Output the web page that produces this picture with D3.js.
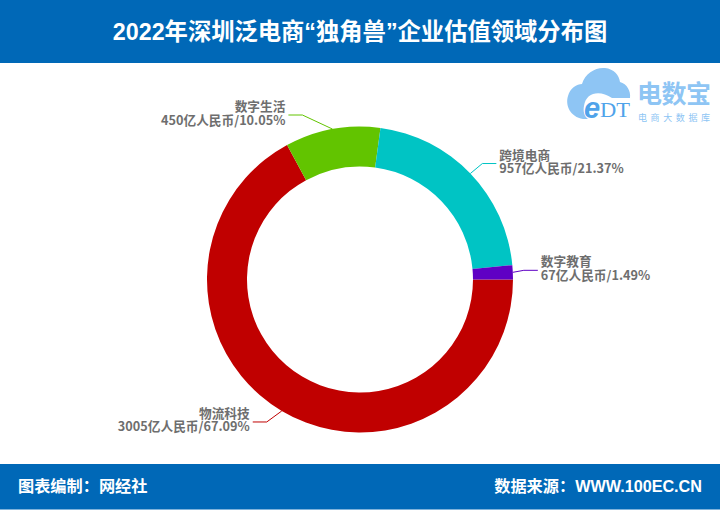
<!DOCTYPE html>
<html>
<head>
<meta charset="utf-8">
<script src="https://cdn.jsdelivr.net/npm/d3@7"></script>
<style>
html, body { margin: 0; padding: 0; background: #fff; }
svg { display: block; }
text { font-family: "Noto Sans CJK SC", "Noto Sans", sans-serif; }
.band { font-family: "Liberation Sans", "Noto Sans CJK SC", sans-serif; }
</style>
</head>
<body>
<script>
// donut chart
let w = 720;
let h = 510;

const categories = ['物流科技', '数字生活', '跨境电商', '数字教育'];
const values = [3005, 450, 957, 67];
const percents = ['67.09%', '10.05%', '21.37%', '1.49%'];
const colors = ['#c00000', '#62c400', '#00c4c4', '#5f00c4'];

const title = '2022年深圳泛电商“独角兽”企业估值领域分布图';
const footerLeft = '图表编制：网经社';
const footerRight = '数据来源：WWW.100EC.CN';

let blue = '#0068b7';
let cx = 360;
let cy = 279.5;
let outer = 153;
let inner = 113;

// how far each leader line's elbow sits from the slice edge
let elbows = [[-15, 11], [-30, -14], [12, -10], [11, -2]];

let svg = d3.select('body').append('svg')
    .attr('width', w)
    .attr('height', h);

// header and footer bands
svg.append('rect').attr('width', w).attr('height', 63).attr('fill', blue);
svg.append('rect').attr('y', 464).attr('width', w).attr('height', 45.5).attr('fill', blue);

svg.append('text')
    .attr('class', 'band')
    .text(title)
    .attr('x', 360)
    .attr('y', 40)
    .attr('text-anchor', 'middle')
    .attr('font-size', 23.3)
    .attr('font-weight', 700)
    .attr('fill', '#fff');

svg.append('text')
    .attr('class', 'band')
    .text(footerLeft)
    .attr('x', 18)
    .attr('y', 492)
    .attr('font-size', 16.2)
    .attr('font-weight', 700)
    .attr('fill', '#fff');

svg.append('text')
    .attr('class', 'band')
    .text(footerRight)
    .attr('x', 702)
    .attr('y', 492)
    .attr('text-anchor', 'end')
    .attr('font-size', 16.2)
    .attr('font-weight', 700)
    .attr('fill', '#fff');

// logo, top right
let logo = svg.append('g').attr('fill', '#8ec5f4');
logo.append('path')
    .attr('d', 'M583 119 C570 117 565 105 568 96 C570 88 577 84 582 84 C585 73 596 67 605 68 C614 69 619 75 620 82 C627 84 631 91 630 98 L612 98 C600 90 586 92 584 106 C583 111 584 116 588 119 Z');
logo.append('text').text('e').attr('x', 584).attr('y', 118).attr('font-size', 29).attr('font-weight', 700).attr('font-style', 'italic').attr('fill', '#4fa3ea').style('font-family', '"Liberation Sans"');
logo.append('text').text('DT').attr('x', 600).attr('y', 117).attr('font-size', 21).attr('textLength', 30).attr('lengthAdjust', 'spacingAndGlyphs').attr('fill', '#4fa3ea').style('font-family', '"Liberation Serif"');
logo.append('text').text('电数宝').attr('x', 637).attr('y', 103).attr('font-size', 25).attr('font-weight', 700).attr('textLength', 74).attr('fill', '#8ec5f4');
logo.append('text').text('电商大数据库').attr('x', 638).attr('y', 121).attr('font-size', 9).attr('textLength', 72).attr('fill', '#8ec5f4');

// donut, clockwise from 3 o'clock
let pie = d3.pie()
    .sort(null)
    .startAngle(Math.PI / 2)
    .endAngle(Math.PI / 2 + Math.PI * 2);

let arc = d3.arc().innerRadius(inner).outerRadius(outer);
let arcs = pie(values);

let chart = svg.append('g').attr('transform', `translate(${cx},${cy})`);

chart.selectAll('path')
    .data(arcs)
    .enter()
    .append('path')
    .attr('d', arc)
    .attr('fill', (d, i) => colors[i]);

// leader lines go out from the middle of each slice
function leader(d) {
    let a = (d.startAngle + d.endAngle) / 2 - Math.PI / 2;
    let p0 = [Math.cos(a) * outer, Math.sin(a) * outer];
    let e = elbows[d.index];
    let p1 = [p0[0] + e[0], p0[1] + e[1]];
    let dir = Math.cos(a) >= 0 ? 1 : -1;
    let p2 = [p1[0] + dir * 14, p1[1]];
    return { p0, p1, p2, dir };
}

chart.selectAll('polyline')
    .data(arcs)
    .enter()
    .append('polyline')
    .attr('points', d => {
        let l = leader(d);
        return [l.p0, l.p1, l.p2].map(p => p.join(',')).join(' ');
    })
    .attr('fill', 'none')
    .attr('stroke', (d, i) => colors[i])
    .attr('stroke-width', 1);

let labels = chart.selectAll('.label')
    .data(arcs)
    .enter()
    .append('text')
    .attr('class', 'label')
    .attr('text-anchor', d => leader(d).dir > 0 ? 'start' : 'end')
    .attr('font-size', 12.7)
    .attr('font-weight', 700)
    .attr('fill', '#6e6e6e');

labels.append('tspan')
    .text((d, i) => categories[i])
    .attr('x', d => leader(d).p2[0] + leader(d).dir * 3)
    .attr('y', d => leader(d).p2[1] - 4);

labels.append('tspan')
    .text((d, i) => `${values[i]}亿人民币/${percents[i]}`)
    .attr('x', d => leader(d).p2[0] + leader(d).dir * 3)
    .attr('y', d => leader(d).p2[1] + 9.5);
</script>
</body>
</html>
